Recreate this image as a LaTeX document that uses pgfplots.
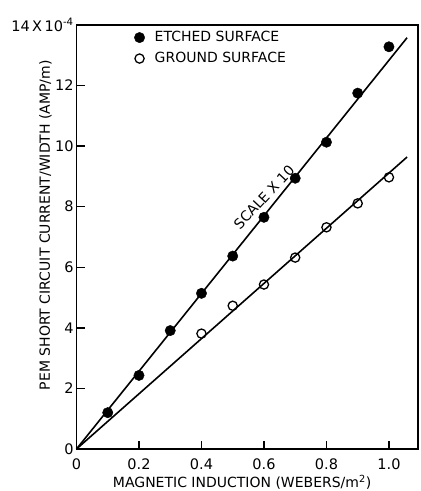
\documentclass[border=0pt]{standalone}
\usepackage{fontspec}
\setmainfont{DejaVu Sans}
\usepackage{pgfplots}
\pgfplotsset{compat=1.18}
\begin{document}
\begin{tikzpicture}
\fontsize{14}{16}\selectfont
\begin{axis}[
  scale only axis,
  width=341.5pt, height=424pt,
  xmin=0, xmax=1.093, ymin=0, ymax=14,
  axis lines=box,
  axis line style={line width=1.4pt, black},
  xtick pos=bottom, ytick pos=left,
  major tick length=8pt,
  every tick/.style={black, line width=1.4pt},
  xtick={0,0.2,0.4,0.6,0.8,1.0},
  xticklabels={0,0.2,0.4,0.6,0.8,1.0},
  ytick={0,2,4,6,8,10,12,14},
  yticklabels={0,2,4,6,8,10,12,{14\,X\,10\textsuperscript{-4}}},
  /pgf/number format/assume math mode=true,
  ticklabel style={font=\fontsize{14.5}{16}\selectfont},
  xticklabel style={yshift=-5pt},
  yticklabel style={xshift=2pt},
  xlabel={MAGNETIC INDUCTION (WEBERS/m\textsuperscript{2})},
  ylabel={PEM SHORT CIRCUIT CURRENT/WIDTH (AMP/m)},
  label style={font=\fontsize{14}{16}\selectfont},
  xlabel style={at={(axis description cs:0.485,0)}, anchor=center, yshift=-33pt},
  ylabel style={at={(axis description cs:-0.091,0.528)}, anchor=center},
  legend style={draw=none, fill=none, at={(0.16,0.995)}, anchor=north west,
    font=\fontsize{14}{16}\selectfont, row sep=4.5pt},
  legend cell align=left,
  clip=false,
]
\addplot[only marks, mark=*, mark size=5.2pt, black] coordinates {
(0.1,1.20) (0.2,2.43) (0.3,3.91) (0.4,5.14) (0.5,6.37)
(0.6,7.65) (0.7,8.94) (0.8,10.13) (0.9,11.75) (1.0,13.28)};
\addlegendentry{\hspace*{8pt}ETCHED SURFACE}
\addplot[only marks, mark=o, mark size=4.6pt, black, mark options={fill=white, line width=1.3pt}] coordinates {
(0.4,3.81) (0.5,4.73) (0.6,5.43) (0.7,6.32) (0.8,7.32) (0.9,8.11) (1.0,8.97)};
\addlegendentry{\hspace*{8pt}GROUND SURFACE}
\addplot[black, line width=1.6pt, forget plot] coordinates {(0,0) (1.058,13.58)};
\addplot[black, line width=1.6pt, forget plot] coordinates {(0,0) (1.058,9.64)};
\node[rotate=47, font=\fontsize{14}{16}\selectfont] at (axis cs:0.60,8.31) {SCALE X 10};
\end{axis}
\pgfresetboundingbox
\path ([shift={(-76.5pt,-42pt)}]current axis.south west) rectangle ([shift={(2pt,25pt)}]current axis.north east);
\end{tikzpicture}
\end{document}
